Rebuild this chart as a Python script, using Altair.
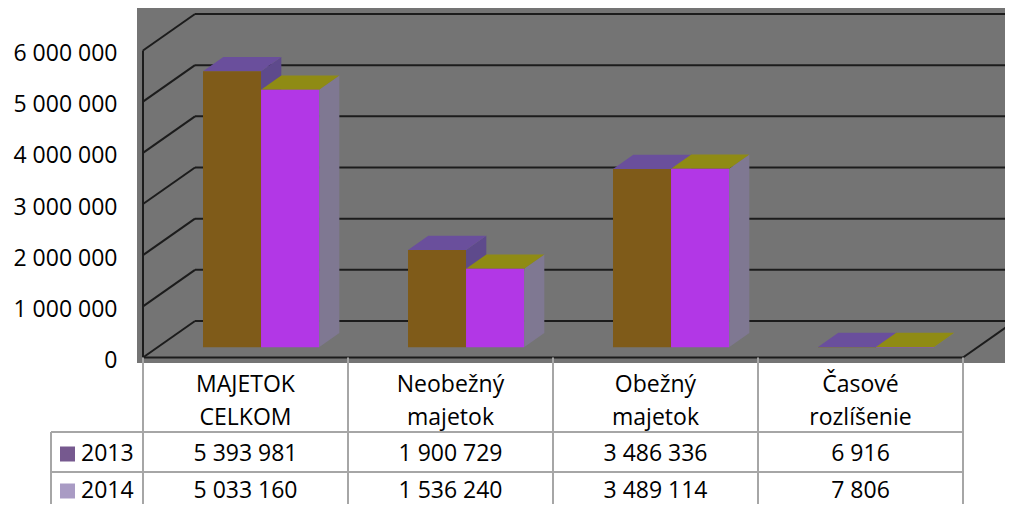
import altair as alt
import pandas as pd

# ---------------- data ----------------
categories = ["MAJETOK CELKOM", "Neobežný majetok", "Obežný majetok", "Časové rozlíšenie"]
years = ["2013", "2014"]
values_2013 = [5393981, 1900729, 3486336, 6916]
values_2014 = [5033160, 1536240, 3489114, 7806]
y_ticks = [0, 1000000, 2000000, 3000000, 4000000, 5000000, 6000000]

# ---------------- style ----------------
FONT = "Open Sans"
FS = 23
front_colors = ["#7f5b19", "#b237e6"]
top_colors = ["#6a4f9c", "#8f8b14"]
side_colors = ["#5e4a8c", "#7f7892"]
legend_colors = ["#76598f", "#a99bc4"]
wall_bg = "#747474"
grid_col = "#1c1c1c"
table_col = "#a6a6a6"

# pseudo-3D projection parameters (x in category units, y in value units)
NCAT = len(categories)
DX = 52 / 205      # horizontal shift of full floor depth (category units)
D = 713400         # vertical shift of full floor depth (value units)
D0 = 0.28          # depth of bar front face
DD = 0.39          # bar depth
GAP = 0.2217       # front-plane gap before first bar in a category
BW = 0.283         # bar width
TDX = DD * DX
TDY = DD * D

W, H = 862, 496
xs = alt.Scale(domain=[0, NCAT], range=[0, 820], nice=False, zero=False)
ys = alt.Scale(domain=[0, max(y_ticks)], range=[349.5, 42.5], nice=False, zero=False)
yaxis = alt.Axis(values=y_ticks, format=",d", title=None, ticks=False, domain=False, grid=False,
                 labelFont=FONT, labelFontSize=FS, labelColor="#000000", labelPadding=26,
                 labelOffset=3)

rows = []
for s, vals in enumerate([values_2013, values_2014]):
    for i, v in enumerate(vals):
        rows.append({"category": categories[i], "idx": i, "year": years[s], "s": s, "value": v})
bars = pd.DataFrame(rows)
ticks_df = pd.DataFrame({"v": y_ticks})
cats_df = pd.DataFrame({"category": categories, "idx": list(range(NCAT))})


def fill_by_year(cols):
    return alt.condition(f"datum.year == '{years[0]}'", alt.value(cols[0]), alt.value(cols[1]))


# background wall
bg = alt.Chart(pd.DataFrame({"a": [0]})).mark_rect(color=wall_bg).encode(
    x=alt.value(-6), x2=alt.value(880), y=alt.value(0), y2=alt.value(355))

# back wall gridlines
back_grid = alt.Chart(ticks_df).transform_calculate(
    yb=f"datum.v + {D}", xa=f"{DX}", xb=f"{NCAT + 0.3}"
).mark_rule(color=grid_col, strokeWidth=2).encode(
    x=alt.X("xa:Q", scale=xs, axis=None), x2="xb:Q",
    y=alt.Y("yb:Q", scale=ys, axis=yaxis))

# side wall diagonals
side_grid = alt.Chart(ticks_df).transform_calculate(
    yb=f"datum.v + {D}", xa="0", xb=f"{DX}"
).mark_rule(color=grid_col, strokeWidth=2).encode(
    x=alt.X("xa:Q", scale=xs, axis=None), x2="xb:Q",
    y=alt.Y("v:Q", scale=ys, axis=yaxis), y2="yb:Q")

# frame edges: left front edge, floor front edge, floor right edge
frame_df = pd.DataFrame({
    "xa": [0, 0, NCAT],
    "ya": [0, 0, 0],
    "xb": [0, NCAT, NCAT + DX],
    "yb": [max(y_ticks), 0, D],
})
frame = alt.Chart(frame_df).mark_rule(color=grid_col, strokeWidth=2).encode(
    x=alt.X("xa:Q", scale=xs, axis=None), x2="xb:Q",
    y=alt.Y("ya:Q", scale=ys, axis=yaxis), y2="yb:Q")

# 3D bars
base3d = alt.Chart(bars).transform_calculate(
    x0=f"datum.idx + {GAP} + datum.s * {BW} + {D0 * DX}",
    x1=f"datum.idx + {GAP} + (datum.s + 1) * {BW} + {D0 * DX}",
    bot=f"{D0 * D}",
    top=f"datum.value + {D0 * D}",
)

sides = base3d.transform_calculate(k="[0, 1]").transform_flatten(["k"]).transform_calculate(
    px=f"datum.k == 0 ? datum.x1 : datum.x1 + {TDX}",
    py=f"datum.k == 0 ? datum.bot : datum.bot + {TDY}",
    py2=f"datum.k == 0 ? datum.top : datum.top + {TDY}",
).mark_area(orient="vertical").encode(
    x=alt.X("px:Q", scale=xs, axis=None),
    y=alt.Y("py:Q", scale=ys, axis=yaxis), y2="py2:Q",
    detail=["category:N", "year:N"],
    fill=fill_by_year(side_colors))

tops = base3d.transform_calculate(k="[0, 1, 2, 3]").transform_flatten(["k"]).transform_calculate(
    px=f"datum.k == 0 ? datum.x0 : datum.k == 1 ? datum.x0 + {TDX} : datum.k == 2 ? datum.x1 : datum.x1 + {TDX}",
    py=f"datum.k < 3 ? datum.top : datum.top + {TDY}",
    py2=f"datum.k == 0 ? datum.top : datum.top + {TDY}",
).mark_area(orient="vertical").encode(
    x=alt.X("px:Q", scale=xs, axis=None),
    y=alt.Y("py:Q", scale=ys, axis=yaxis), y2="py2:Q",
    detail=["category:N", "year:N"],
    fill=fill_by_year(top_colors))

fronts = base3d.mark_rect().encode(
    x=alt.X("x0:Q", scale=xs, axis=None), x2="x1:Q",
    y=alt.Y("top:Q", scale=ys, axis=yaxis), y2="bot:Q",
    fill=fill_by_year(front_colors))

# data table
HL = [424, 464]
row_y = [445.5, 482.5]
vlines = alt.Chart(pd.DataFrame({"idx": list(range(NCAT + 1))})).transform_calculate(z="0").mark_rule(
    color=table_col, strokeWidth=2).encode(
    x=alt.X("idx:Q", scale=xs, axis=None), y=alt.Y("z:Q", scale=ys, axis=yaxis), y2=alt.value(H))
hl_df = pd.DataFrame({"a": [0]})
hlines = [
    alt.Chart(hl_df).mark_rule(color=table_col, strokeWidth=2).encode(
        x=alt.value(-92), x2=alt.value(820), y=alt.value(yy))
    for yy in HL
]
leg_vline = alt.Chart(hl_df).mark_rule(color=table_col, strokeWidth=2).encode(
    x=alt.value(-92), y=alt.value(HL[0]), y2=alt.value(H))

header = alt.Chart(cats_df).transform_calculate(xc="datum.idx + 0.5").mark_text(
    font=FONT, fontSize=FS, lineBreak=" ", lineHeight=33, baseline="middle", align="center",
    color="#000000").encode(
    x=alt.X("xc:Q", scale=xs, axis=None), y=alt.value(377), text="category:N")

value_rows = []
legend_items = []
for j, yr in enumerate(years):
    value_rows.append(
        alt.Chart(bars).transform_filter(f"datum.year == '{yr}'").transform_calculate(
            xc="datum.idx + 0.5").mark_text(
            font=FONT, fontSize=FS, baseline="middle", align="center", color="#000000").encode(
            x=alt.X("xc:Q", scale=xs, axis=None), y=alt.value(row_y[j]),
            text=alt.Text("value:Q", format=",d")))
    ydf = pd.DataFrame({"year": [yr]})
    legend_items.append(
        alt.Chart(ydf).mark_square(size=225, filled=True, opacity=1, color=legend_colors[j]).encode(
            x=alt.value(-75.5), y=alt.value(row_y[j] + 0.5)))
    legend_items.append(
        alt.Chart(ydf).mark_text(font=FONT, fontSize=FS, baseline="middle", align="left",
                                 color="#000000").encode(
            x=alt.value(-62), y=alt.value(row_y[j]), text="year:N"))

chart = alt.layer(
    bg, back_grid, side_grid, frame, sides, tops, fronts,
    vlines, *hlines, leg_vline, header, *value_rows, *legend_items
).properties(
    width=W, height=H,
    padding={"left": 135, "top": 0, "right": 0, "bottom": 0},
    autosize=alt.AutoSizeParams(type="none"),
).configure_view(strokeWidth=0).configure(
    locale={"number": {"decimal": ",", "thousands": " ", "grouping": [3], "currency": ["", " €"]}}
)

chart.save("out.html", embed_options={"renderer": "svg", "actions": False})
